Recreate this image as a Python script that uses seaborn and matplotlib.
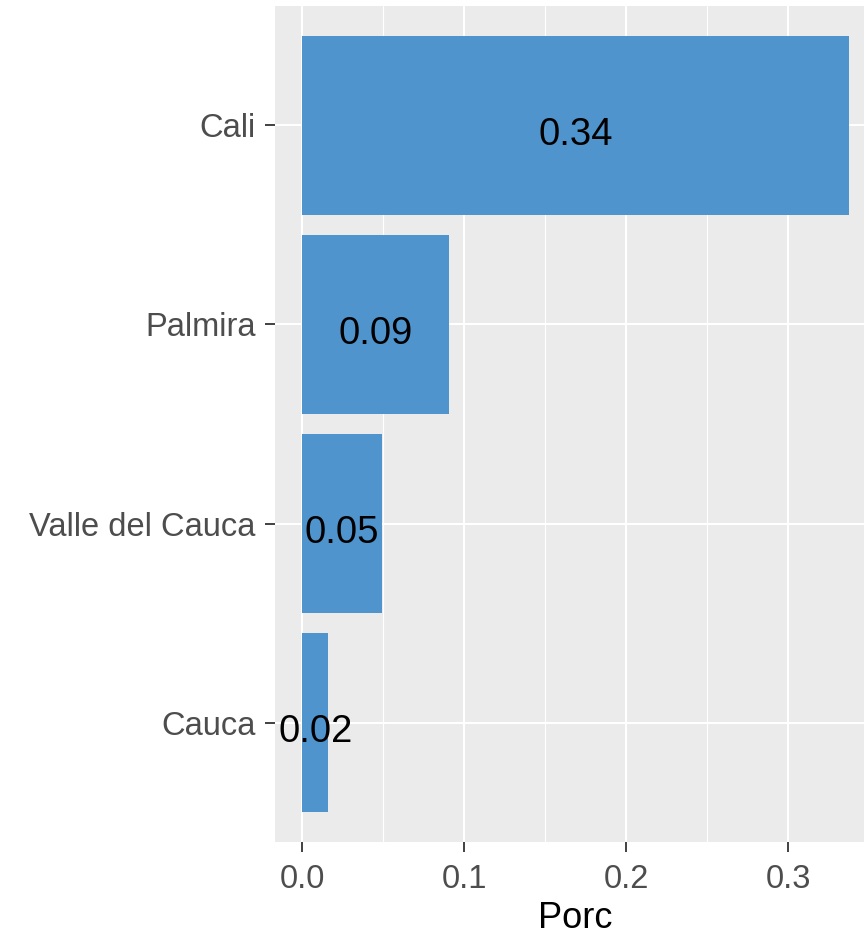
import matplotlib
matplotlib.use("Agg")
import matplotlib.pyplot as plt
import seaborn as sns
import pandas as pd
from matplotlib.ticker import MultipleLocator
from matplotlib.transforms import offset_copy

categories = ["Cali", "Palmira", "Valle del Cauca", "Cauca"]
porc = [0.3373, 0.0904, 0.0489, 0.0159]
x_ticks = [0.0, 0.1, 0.2, 0.3]
x_tick_labels = ["0.0", "0.1", "0.2", "0.3"]

df = pd.DataFrame({"Lugar": categories, "Porc": porc})

sns.set_theme(style="darkgrid")
plt.rcParams["font.family"] = ["Liberation Sans", "DejaVu Sans"]

fig = plt.figure(figsize=(8.64, 9.38), dpi=100)
W, H = 864, 938
left, right, top, bottom = 275, 876, 6, 842
ax = fig.add_axes([left / W, (H - bottom) / H, (right - left) / W, (bottom - top) / H])
ax.set_facecolor("#EBEBEB")

sns.barplot(data=df, x="Porc", y="Lugar", order=categories, orient="h",
            color="#4F94CD", saturation=1, width=0.9, linewidth=0,
            edgecolor="none", ax=ax, zorder=2)

txt_tr = offset_copy(ax.transData, fig=fig, x=0, y=-4, units="points")
for i, v in enumerate(porc):
    ax.text(v / 2, i, f"{v:.2f}", ha="center", va="center_baseline",
            fontsize=27.5, color="black", zorder=3, transform=txt_tr)

ax.set_xlim(-0.0169, 0.3542)
ax.set_ylim(3.6, -0.6)
ax.set_xticks(x_ticks)
ax.set_xticklabels(x_tick_labels)
ax.xaxis.set_minor_locator(MultipleLocator(0.05))

ax.grid(which="major", color="white", linewidth=1.5, zorder=0)
ax.grid(which="minor", axis="x", color="white", linewidth=0.8, zorder=0)
ax.set_axisbelow(True)
for s in ax.spines.values():
    s.set_visible(False)

ax.tick_params(axis="both", which="major", bottom=True, left=True,
               length=7, width=1.3, color="#333333",
               labelsize=23.5, labelcolor="#4D4D4D")
ax.tick_params(axis="x", which="major", pad=8.5)
ax.tick_params(axis="y", which="major", pad=7)
ax.tick_params(axis="x", which="minor", length=0)

ax.set_xlabel("Porc", fontsize=26, color="black", labelpad=5)
ax.set_ylabel("")

fig.savefig("out.png", dpi=100)
